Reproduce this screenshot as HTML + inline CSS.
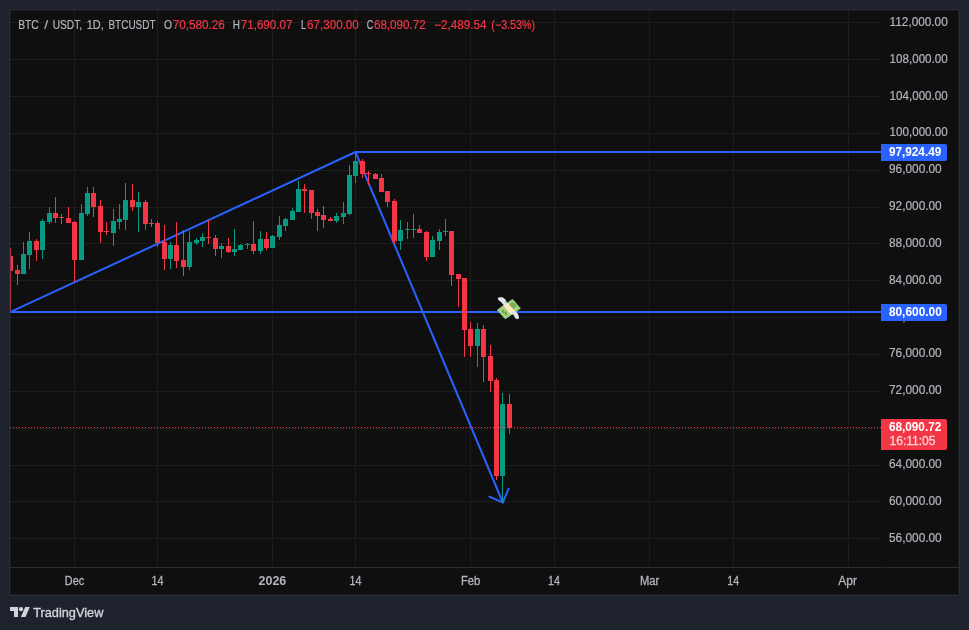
<!DOCTYPE html>
<html><head><meta charset="utf-8"><title>BTC / USDT chart</title>
<style>
html,body{margin:0;padding:0;background:#1e222d;}
body{width:969px;height:630px;overflow:hidden;font-family:"Liberation Sans",sans-serif;}
svg{display:block;will-change:transform;}
text{font-family:"Liberation Sans",sans-serif;}
</style></head><body>
<svg width="969" height="630" viewBox="0 0 969 630">
<rect x="0" y="0" width="969" height="630" fill="#1e222d"/>
<rect x="10" y="10" width="949" height="585" fill="#0f0f0f"/>
<g shape-rendering="crispEdges" fill="#1d1d1d">
<rect x="10" y="22" width="871" height="1"/><rect x="10" y="59" width="871" height="1"/><rect x="10" y="96" width="871" height="1"/><rect x="10" y="133" width="871" height="1"/><rect x="10" y="170" width="871" height="1"/><rect x="10" y="207" width="871" height="1"/><rect x="10" y="243" width="871" height="1"/><rect x="10" y="280" width="871" height="1"/><rect x="10" y="317" width="871" height="1"/><rect x="10" y="354" width="871" height="1"/><rect x="10" y="391" width="871" height="1"/><rect x="10" y="428" width="871" height="1"/><rect x="10" y="465" width="871" height="1"/><rect x="10" y="501" width="871" height="1"/><rect x="10" y="538" width="871" height="1"/>
<rect x="74" y="10" width="1" height="557"/><rect x="157" y="10" width="1" height="557"/><rect x="272" y="10" width="1" height="557"/><rect x="355" y="10" width="1" height="557"/><rect x="470" y="10" width="1" height="557"/><rect x="554" y="10" width="1" height="557"/><rect x="649" y="10" width="1" height="557"/><rect x="733" y="10" width="1" height="557"/><rect x="848" y="10" width="1" height="557"/>
</g>
<rect x="10" y="567" width="949" height="1" fill="#2a2e39" shape-rendering="crispEdges"/>
<rect x="10" y="248" width="1" height="63" fill="#f23645" shape-rendering="crispEdges"/>
<g stroke="#2962ff" stroke-width="2" fill="none" stroke-linecap="round" stroke-linejoin="round">
<path d="M10 312.2 L355.5 152 L881 152" stroke-linecap="butt"/>
<path d="M10 312 L881 312" stroke-linecap="butt"/>
<path d="M355.5 152 L502.8 502.5"/>
<path d="M489.4 496.7 L502.8 502.5 L508.6 488.7"/>
</g>
<g transform="matrix(0.823 -0.568 0.658 0.752 496.8 309.8)">
<rect x="0" y="0" width="19.2" height="12.76" rx="1.1" fill="#a6d388"/>
<rect x="0.9" y="0.9" width="17.4" height="10.96" rx="0.6" fill="none" stroke="#8fc46c" stroke-width="0.7"/>
<circle cx="14.7" cy="5.7" r="3.3" fill="#77b255"/>
<path d="M5.6 4.3 c-1.4 -0.6 -2.9 0 -2.9 1.1 c0 1.3 2.9 0.9 2.9 2.3 c0 1.1 -1.6 1.6 -3 0.9 M4.15 2.9 v7" fill="none" stroke="#5c913b" stroke-width="0.85"/>
<rect x="7.7" y="0" width="5.2" height="12.76" fill="#ffe8b6"/>
<rect x="7.7" y="11.7" width="1.3" height="1.06" fill="#ffac33"/>
</g>
<path d="M498.1 299.6 C497.6 298 498.6 297.2 499.9 297.3 C501.6 296.9 503.2 297.4 504.2 298.6 C505.6 299.6 506.4 301.2 506.7 302.7 C507 303.8 506.9 304.9 506.2 305.5 C505.4 305.9 504.4 305.6 503.7 305 C503 304.4 502.5 303.6 501.9 302.9 C501.3 302.2 500.4 301.7 499.6 301.1 C498.9 300.7 498.3 300.3 498.1 299.6 Z" fill="#e1e8ed"/>
<path d="M503.9 300.2 C505 301.4 505.7 302.8 505.9 304.3" fill="none" stroke="#ccd6dd" stroke-width="0.8"/>
<path d="M510.6 312.1 C511.2 311.2 512.3 310.9 513.3 311 C514.5 311.1 515.6 311.5 516.4 312.3 C517.5 313.2 518.3 314.5 518.7 315.9 C519 316.7 519.1 317.5 518.7 318.2 C518.2 319 517.3 319.2 516.6 318.9 C515.7 318.5 515.1 317.7 514.6 316.9 C514.1 316 513.6 315 512.8 314.3 C512.3 313.9 511.6 314 511.1 313.8 C510.5 313.5 510.3 312.7 510.6 312.1 Z" fill="#e1e8ed"/>
<path d="M512.2 312.6 C513.6 313.2 514.9 314.6 515.6 316.2" fill="none" stroke="#ccd6dd" stroke-width="0.8"/>
<rect x="881" y="567" width="1" height="1" fill="#0f0f0f" shape-rendering="crispEdges"/>
<g shape-rendering="crispEdges">
<rect x="11" y="256" width="2" height="15" fill="#f23645"/>
<rect x="17" y="265" width="1" height="20" fill="#f23645"/><rect x="15" y="270" width="5" height="4" fill="#f23645"/>
<rect x="23" y="242" width="1" height="32" fill="#089981"/><rect x="21" y="254" width="5" height="20" fill="#089981"/>
<rect x="29" y="232" width="1" height="37" fill="#089981"/><rect x="27" y="241" width="5" height="14" fill="#089981"/>
<rect x="36" y="239" width="1" height="22" fill="#f23645"/><rect x="34" y="241" width="5" height="9" fill="#f23645"/>
<rect x="42" y="219" width="1" height="40" fill="#089981"/><rect x="40" y="221" width="5" height="29" fill="#089981"/>
<rect x="49" y="207" width="1" height="17" fill="#089981"/><rect x="47" y="213" width="5" height="9" fill="#089981"/>
<rect x="55" y="197" width="1" height="26" fill="#f23645"/><rect x="53" y="213" width="5" height="5" fill="#f23645"/>
<rect x="61" y="214" width="1" height="10" fill="#f23645"/><rect x="59" y="217" width="5" height="1" fill="#f23645"/>
<rect x="68" y="207" width="1" height="16" fill="#f23645"/><rect x="66" y="218" width="5" height="5" fill="#f23645"/>
<rect x="74" y="221" width="1" height="61" fill="#f23645"/><rect x="72" y="222" width="5" height="38" fill="#f23645"/>
<rect x="81" y="204" width="1" height="56" fill="#089981"/><rect x="79" y="213" width="5" height="47" fill="#089981"/>
<rect x="87" y="187" width="1" height="29" fill="#089981"/><rect x="85" y="193" width="5" height="21" fill="#089981"/>
<rect x="93" y="187" width="1" height="30" fill="#f23645"/><rect x="91" y="193" width="5" height="14" fill="#f23645"/>
<rect x="100" y="200" width="1" height="43" fill="#f23645"/><rect x="98" y="206" width="5" height="26" fill="#f23645"/>
<rect x="106" y="222" width="1" height="13" fill="#f23645"/><rect x="104" y="231" width="5" height="1" fill="#f23645"/>
<rect x="113" y="209" width="1" height="37" fill="#089981"/><rect x="111" y="221" width="5" height="12" fill="#089981"/>
<rect x="119" y="204" width="1" height="25" fill="#089981"/><rect x="117" y="219" width="5" height="3" fill="#089981"/>
<rect x="125" y="183" width="1" height="47" fill="#089981"/><rect x="123" y="200" width="5" height="20" fill="#089981"/>
<rect x="132" y="184" width="1" height="27" fill="#f23645"/><rect x="130" y="200" width="5" height="7" fill="#f23645"/>
<rect x="138" y="192" width="1" height="40" fill="#089981"/><rect x="136" y="202" width="5" height="5" fill="#089981"/>
<rect x="145" y="200" width="1" height="30" fill="#f23645"/><rect x="143" y="202" width="5" height="22" fill="#f23645"/>
<rect x="151" y="219" width="1" height="8" fill="#f23645"/><rect x="149" y="223" width="5" height="1" fill="#f23645"/>
<rect x="157" y="221" width="1" height="26" fill="#f23645"/><rect x="155" y="223" width="5" height="20" fill="#f23645"/>
<rect x="164" y="225" width="1" height="45" fill="#f23645"/><rect x="162" y="242" width="5" height="17" fill="#f23645"/>
<rect x="170" y="242" width="1" height="27" fill="#089981"/><rect x="168" y="245" width="5" height="14" fill="#089981"/>
<rect x="176" y="222" width="1" height="46" fill="#f23645"/><rect x="174" y="245" width="5" height="16" fill="#f23645"/>
<rect x="183" y="230" width="1" height="46" fill="#f23645"/><rect x="181" y="260" width="5" height="7" fill="#f23645"/>
<rect x="189" y="231" width="1" height="39" fill="#089981"/><rect x="187" y="242" width="5" height="25" fill="#089981"/>
<rect x="196" y="238" width="1" height="7" fill="#089981"/><rect x="194" y="240" width="5" height="3" fill="#089981"/>
<rect x="202" y="233" width="1" height="14" fill="#089981"/><rect x="200" y="237" width="5" height="4" fill="#089981"/>
<rect x="208" y="220" width="1" height="24" fill="#f23645"/><rect x="206" y="237" width="5" height="1" fill="#f23645"/>
<rect x="215" y="235" width="1" height="21" fill="#f23645"/><rect x="213" y="238" width="5" height="11" fill="#f23645"/>
<rect x="221" y="243" width="1" height="15" fill="#089981"/><rect x="219" y="246" width="5" height="3" fill="#089981"/>
<rect x="228" y="238" width="1" height="15" fill="#f23645"/><rect x="226" y="246" width="5" height="6" fill="#f23645"/>
<rect x="234" y="229" width="1" height="27" fill="#089981"/><rect x="232" y="249" width="5" height="3" fill="#089981"/>
<rect x="240" y="244" width="1" height="6" fill="#089981"/><rect x="238" y="245" width="5" height="5" fill="#089981"/>
<rect x="247" y="243" width="1" height="6" fill="#089981"/><rect x="245" y="244" width="5" height="1" fill="#089981"/>
<rect x="253" y="221" width="1" height="33" fill="#f23645"/><rect x="251" y="244" width="5" height="7" fill="#f23645"/>
<rect x="260" y="231" width="1" height="23" fill="#089981"/><rect x="258" y="239" width="5" height="12" fill="#089981"/>
<rect x="266" y="232" width="1" height="18" fill="#f23645"/><rect x="264" y="239" width="5" height="9" fill="#f23645"/>
<rect x="272" y="235" width="1" height="13" fill="#089981"/><rect x="270" y="236" width="5" height="12" fill="#089981"/>
<rect x="279" y="216" width="1" height="24" fill="#089981"/><rect x="277" y="225" width="5" height="12" fill="#089981"/>
<rect x="285" y="218" width="1" height="13" fill="#089981"/><rect x="283" y="219" width="5" height="7" fill="#089981"/>
<rect x="292" y="208" width="1" height="12" fill="#089981"/><rect x="290" y="211" width="5" height="9" fill="#089981"/>
<rect x="298" y="181" width="1" height="31" fill="#089981"/><rect x="296" y="189" width="5" height="23" fill="#089981"/>
<rect x="304" y="184" width="1" height="29" fill="#f23645"/><rect x="302" y="189" width="5" height="2" fill="#f23645"/>
<rect x="311" y="190" width="1" height="29" fill="#f23645"/><rect x="309" y="190" width="5" height="23" fill="#f23645"/>
<rect x="317" y="209" width="1" height="22" fill="#f23645"/><rect x="315" y="212" width="5" height="4" fill="#f23645"/>
<rect x="323" y="206" width="1" height="22" fill="#f23645"/><rect x="321" y="215" width="5" height="5" fill="#f23645"/>
<rect x="330" y="217" width="1" height="4" fill="#f23645"/><rect x="328" y="219" width="5" height="2" fill="#f23645"/>
<rect x="336" y="213" width="1" height="10" fill="#089981"/><rect x="334" y="216" width="5" height="5" fill="#089981"/>
<rect x="343" y="202" width="1" height="22" fill="#089981"/><rect x="341" y="213" width="5" height="4" fill="#089981"/>
<rect x="349" y="165" width="1" height="50" fill="#089981"/><rect x="347" y="175" width="5" height="39" fill="#089981"/>
<rect x="355" y="152" width="1" height="31" fill="#089981"/><rect x="353" y="161" width="5" height="15" fill="#089981"/>
<rect x="362" y="159" width="1" height="19" fill="#f23645"/><rect x="360" y="161" width="5" height="13" fill="#f23645"/>
<rect x="368" y="171" width="1" height="14" fill="#f23645"/><rect x="366" y="173" width="5" height="1" fill="#f23645"/>
<rect x="375" y="173" width="1" height="6" fill="#f23645"/><rect x="373" y="174" width="5" height="5" fill="#f23645"/>
<rect x="381" y="174" width="1" height="18" fill="#f23645"/><rect x="379" y="178" width="5" height="14" fill="#f23645"/>
<rect x="387" y="191" width="1" height="16" fill="#f23645"/><rect x="385" y="191" width="5" height="11" fill="#f23645"/>
<rect x="394" y="199" width="1" height="45" fill="#f23645"/><rect x="392" y="201" width="5" height="40" fill="#f23645"/>
<rect x="400" y="220" width="1" height="30" fill="#089981"/><rect x="398" y="230" width="5" height="11" fill="#089981"/>
<rect x="407" y="222" width="1" height="17" fill="#089981"/><rect x="405" y="229" width="5" height="1" fill="#089981"/>
<rect x="413" y="214" width="1" height="24" fill="#089981"/><rect x="411" y="229" width="5" height="1" fill="#089981"/>
<rect x="419" y="225" width="1" height="8" fill="#f23645"/><rect x="417" y="229" width="5" height="4" fill="#f23645"/>
<rect x="426" y="231" width="1" height="30" fill="#f23645"/><rect x="424" y="232" width="5" height="25" fill="#f23645"/>
<rect x="432" y="236" width="1" height="21" fill="#089981"/><rect x="430" y="240" width="5" height="17" fill="#089981"/>
<rect x="439" y="229" width="1" height="21" fill="#089981"/><rect x="437" y="232" width="5" height="9" fill="#089981"/>
<rect x="445" y="219" width="1" height="17" fill="#089981"/><rect x="443" y="231" width="5" height="1" fill="#089981"/>
<rect x="451" y="231" width="1" height="55" fill="#f23645"/><rect x="449" y="231" width="5" height="44" fill="#f23645"/>
<rect x="458" y="274" width="1" height="33" fill="#f23645"/><rect x="456" y="274" width="5" height="5" fill="#f23645"/>
<rect x="464" y="278" width="1" height="79" fill="#f23645"/><rect x="462" y="278" width="5" height="52" fill="#f23645"/>
<rect x="470" y="322" width="1" height="35" fill="#f23645"/><rect x="468" y="329" width="5" height="17" fill="#f23645"/>
<rect x="477" y="323" width="1" height="44" fill="#089981"/><rect x="475" y="329" width="5" height="17" fill="#089981"/>
<rect x="483" y="325" width="1" height="57" fill="#f23645"/><rect x="481" y="329" width="5" height="28" fill="#f23645"/>
<rect x="490" y="345" width="1" height="47" fill="#f23645"/><rect x="488" y="356" width="5" height="25" fill="#f23645"/>
<rect x="496" y="378" width="1" height="102" fill="#f23645"/><rect x="494" y="380" width="5" height="96" fill="#f23645"/>
<rect x="502" y="393" width="1" height="109" fill="#089981"/><rect x="500" y="404" width="5" height="72" fill="#089981"/>
<rect x="509" y="394" width="1" height="40" fill="#f23645"/><rect x="507" y="404" width="5" height="24" fill="#f23645"/>
</g>
<g shape-rendering="crispEdges" fill="#f23645"><rect x="10" y="427" width="1" height="1"/><rect x="13" y="427" width="1" height="1"/><rect x="16" y="427" width="1" height="1"/><rect x="19" y="427" width="1" height="1"/><rect x="22" y="427" width="1" height="1"/><rect x="25" y="427" width="1" height="1"/><rect x="28" y="427" width="1" height="1"/><rect x="31" y="427" width="1" height="1"/><rect x="34" y="427" width="1" height="1"/><rect x="37" y="427" width="1" height="1"/><rect x="40" y="427" width="1" height="1"/><rect x="43" y="427" width="1" height="1"/><rect x="46" y="427" width="1" height="1"/><rect x="49" y="427" width="1" height="1"/><rect x="52" y="427" width="1" height="1"/><rect x="55" y="427" width="1" height="1"/><rect x="58" y="427" width="1" height="1"/><rect x="61" y="427" width="1" height="1"/><rect x="64" y="427" width="1" height="1"/><rect x="67" y="427" width="1" height="1"/><rect x="70" y="427" width="1" height="1"/><rect x="73" y="427" width="1" height="1"/><rect x="76" y="427" width="1" height="1"/><rect x="79" y="427" width="1" height="1"/><rect x="82" y="427" width="1" height="1"/><rect x="85" y="427" width="1" height="1"/><rect x="88" y="427" width="1" height="1"/><rect x="91" y="427" width="1" height="1"/><rect x="94" y="427" width="1" height="1"/><rect x="97" y="427" width="1" height="1"/><rect x="100" y="427" width="1" height="1"/><rect x="103" y="427" width="1" height="1"/><rect x="106" y="427" width="1" height="1"/><rect x="109" y="427" width="1" height="1"/><rect x="112" y="427" width="1" height="1"/><rect x="115" y="427" width="1" height="1"/><rect x="118" y="427" width="1" height="1"/><rect x="121" y="427" width="1" height="1"/><rect x="124" y="427" width="1" height="1"/><rect x="127" y="427" width="1" height="1"/><rect x="130" y="427" width="1" height="1"/><rect x="133" y="427" width="1" height="1"/><rect x="136" y="427" width="1" height="1"/><rect x="139" y="427" width="1" height="1"/><rect x="142" y="427" width="1" height="1"/><rect x="145" y="427" width="1" height="1"/><rect x="148" y="427" width="1" height="1"/><rect x="151" y="427" width="1" height="1"/><rect x="154" y="427" width="1" height="1"/><rect x="157" y="427" width="1" height="1"/><rect x="160" y="427" width="1" height="1"/><rect x="163" y="427" width="1" height="1"/><rect x="166" y="427" width="1" height="1"/><rect x="169" y="427" width="1" height="1"/><rect x="172" y="427" width="1" height="1"/><rect x="175" y="427" width="1" height="1"/><rect x="178" y="427" width="1" height="1"/><rect x="181" y="427" width="1" height="1"/><rect x="184" y="427" width="1" height="1"/><rect x="187" y="427" width="1" height="1"/><rect x="190" y="427" width="1" height="1"/><rect x="193" y="427" width="1" height="1"/><rect x="196" y="427" width="1" height="1"/><rect x="199" y="427" width="1" height="1"/><rect x="202" y="427" width="1" height="1"/><rect x="205" y="427" width="1" height="1"/><rect x="208" y="427" width="1" height="1"/><rect x="211" y="427" width="1" height="1"/><rect x="214" y="427" width="1" height="1"/><rect x="217" y="427" width="1" height="1"/><rect x="220" y="427" width="1" height="1"/><rect x="223" y="427" width="1" height="1"/><rect x="226" y="427" width="1" height="1"/><rect x="229" y="427" width="1" height="1"/><rect x="232" y="427" width="1" height="1"/><rect x="235" y="427" width="1" height="1"/><rect x="238" y="427" width="1" height="1"/><rect x="241" y="427" width="1" height="1"/><rect x="244" y="427" width="1" height="1"/><rect x="247" y="427" width="1" height="1"/><rect x="250" y="427" width="1" height="1"/><rect x="253" y="427" width="1" height="1"/><rect x="256" y="427" width="1" height="1"/><rect x="259" y="427" width="1" height="1"/><rect x="262" y="427" width="1" height="1"/><rect x="265" y="427" width="1" height="1"/><rect x="268" y="427" width="1" height="1"/><rect x="271" y="427" width="1" height="1"/><rect x="274" y="427" width="1" height="1"/><rect x="277" y="427" width="1" height="1"/><rect x="280" y="427" width="1" height="1"/><rect x="283" y="427" width="1" height="1"/><rect x="286" y="427" width="1" height="1"/><rect x="289" y="427" width="1" height="1"/><rect x="292" y="427" width="1" height="1"/><rect x="295" y="427" width="1" height="1"/><rect x="298" y="427" width="1" height="1"/><rect x="301" y="427" width="1" height="1"/><rect x="304" y="427" width="1" height="1"/><rect x="307" y="427" width="1" height="1"/><rect x="310" y="427" width="1" height="1"/><rect x="313" y="427" width="1" height="1"/><rect x="316" y="427" width="1" height="1"/><rect x="319" y="427" width="1" height="1"/><rect x="322" y="427" width="1" height="1"/><rect x="325" y="427" width="1" height="1"/><rect x="328" y="427" width="1" height="1"/><rect x="331" y="427" width="1" height="1"/><rect x="334" y="427" width="1" height="1"/><rect x="337" y="427" width="1" height="1"/><rect x="340" y="427" width="1" height="1"/><rect x="343" y="427" width="1" height="1"/><rect x="346" y="427" width="1" height="1"/><rect x="349" y="427" width="1" height="1"/><rect x="352" y="427" width="1" height="1"/><rect x="355" y="427" width="1" height="1"/><rect x="358" y="427" width="1" height="1"/><rect x="361" y="427" width="1" height="1"/><rect x="364" y="427" width="1" height="1"/><rect x="367" y="427" width="1" height="1"/><rect x="370" y="427" width="1" height="1"/><rect x="373" y="427" width="1" height="1"/><rect x="376" y="427" width="1" height="1"/><rect x="379" y="427" width="1" height="1"/><rect x="382" y="427" width="1" height="1"/><rect x="385" y="427" width="1" height="1"/><rect x="388" y="427" width="1" height="1"/><rect x="391" y="427" width="1" height="1"/><rect x="394" y="427" width="1" height="1"/><rect x="397" y="427" width="1" height="1"/><rect x="400" y="427" width="1" height="1"/><rect x="403" y="427" width="1" height="1"/><rect x="406" y="427" width="1" height="1"/><rect x="409" y="427" width="1" height="1"/><rect x="412" y="427" width="1" height="1"/><rect x="415" y="427" width="1" height="1"/><rect x="418" y="427" width="1" height="1"/><rect x="421" y="427" width="1" height="1"/><rect x="424" y="427" width="1" height="1"/><rect x="427" y="427" width="1" height="1"/><rect x="430" y="427" width="1" height="1"/><rect x="433" y="427" width="1" height="1"/><rect x="436" y="427" width="1" height="1"/><rect x="439" y="427" width="1" height="1"/><rect x="442" y="427" width="1" height="1"/><rect x="445" y="427" width="1" height="1"/><rect x="448" y="427" width="1" height="1"/><rect x="451" y="427" width="1" height="1"/><rect x="454" y="427" width="1" height="1"/><rect x="457" y="427" width="1" height="1"/><rect x="460" y="427" width="1" height="1"/><rect x="463" y="427" width="1" height="1"/><rect x="466" y="427" width="1" height="1"/><rect x="469" y="427" width="1" height="1"/><rect x="472" y="427" width="1" height="1"/><rect x="475" y="427" width="1" height="1"/><rect x="478" y="427" width="1" height="1"/><rect x="481" y="427" width="1" height="1"/><rect x="484" y="427" width="1" height="1"/><rect x="487" y="427" width="1" height="1"/><rect x="490" y="427" width="1" height="1"/><rect x="493" y="427" width="1" height="1"/><rect x="496" y="427" width="1" height="1"/><rect x="499" y="427" width="1" height="1"/><rect x="502" y="427" width="1" height="1"/><rect x="505" y="427" width="1" height="1"/><rect x="508" y="427" width="1" height="1"/><rect x="511" y="427" width="1" height="1"/><rect x="514" y="427" width="1" height="1"/><rect x="517" y="427" width="1" height="1"/><rect x="520" y="427" width="1" height="1"/><rect x="523" y="427" width="1" height="1"/><rect x="526" y="427" width="1" height="1"/><rect x="529" y="427" width="1" height="1"/><rect x="532" y="427" width="1" height="1"/><rect x="535" y="427" width="1" height="1"/><rect x="538" y="427" width="1" height="1"/><rect x="541" y="427" width="1" height="1"/><rect x="544" y="427" width="1" height="1"/><rect x="547" y="427" width="1" height="1"/><rect x="550" y="427" width="1" height="1"/><rect x="553" y="427" width="1" height="1"/><rect x="556" y="427" width="1" height="1"/><rect x="559" y="427" width="1" height="1"/><rect x="562" y="427" width="1" height="1"/><rect x="565" y="427" width="1" height="1"/><rect x="568" y="427" width="1" height="1"/><rect x="571" y="427" width="1" height="1"/><rect x="574" y="427" width="1" height="1"/><rect x="577" y="427" width="1" height="1"/><rect x="580" y="427" width="1" height="1"/><rect x="583" y="427" width="1" height="1"/><rect x="586" y="427" width="1" height="1"/><rect x="589" y="427" width="1" height="1"/><rect x="592" y="427" width="1" height="1"/><rect x="595" y="427" width="1" height="1"/><rect x="598" y="427" width="1" height="1"/><rect x="601" y="427" width="1" height="1"/><rect x="604" y="427" width="1" height="1"/><rect x="607" y="427" width="1" height="1"/><rect x="610" y="427" width="1" height="1"/><rect x="613" y="427" width="1" height="1"/><rect x="616" y="427" width="1" height="1"/><rect x="619" y="427" width="1" height="1"/><rect x="622" y="427" width="1" height="1"/><rect x="625" y="427" width="1" height="1"/><rect x="628" y="427" width="1" height="1"/><rect x="631" y="427" width="1" height="1"/><rect x="634" y="427" width="1" height="1"/><rect x="637" y="427" width="1" height="1"/><rect x="640" y="427" width="1" height="1"/><rect x="643" y="427" width="1" height="1"/><rect x="646" y="427" width="1" height="1"/><rect x="649" y="427" width="1" height="1"/><rect x="652" y="427" width="1" height="1"/><rect x="655" y="427" width="1" height="1"/><rect x="658" y="427" width="1" height="1"/><rect x="661" y="427" width="1" height="1"/><rect x="664" y="427" width="1" height="1"/><rect x="667" y="427" width="1" height="1"/><rect x="670" y="427" width="1" height="1"/><rect x="673" y="427" width="1" height="1"/><rect x="676" y="427" width="1" height="1"/><rect x="679" y="427" width="1" height="1"/><rect x="682" y="427" width="1" height="1"/><rect x="685" y="427" width="1" height="1"/><rect x="688" y="427" width="1" height="1"/><rect x="691" y="427" width="1" height="1"/><rect x="694" y="427" width="1" height="1"/><rect x="697" y="427" width="1" height="1"/><rect x="700" y="427" width="1" height="1"/><rect x="703" y="427" width="1" height="1"/><rect x="706" y="427" width="1" height="1"/><rect x="709" y="427" width="1" height="1"/><rect x="712" y="427" width="1" height="1"/><rect x="715" y="427" width="1" height="1"/><rect x="718" y="427" width="1" height="1"/><rect x="721" y="427" width="1" height="1"/><rect x="724" y="427" width="1" height="1"/><rect x="727" y="427" width="1" height="1"/><rect x="730" y="427" width="1" height="1"/><rect x="733" y="427" width="1" height="1"/><rect x="736" y="427" width="1" height="1"/><rect x="739" y="427" width="1" height="1"/><rect x="742" y="427" width="1" height="1"/><rect x="745" y="427" width="1" height="1"/><rect x="748" y="427" width="1" height="1"/><rect x="751" y="427" width="1" height="1"/><rect x="754" y="427" width="1" height="1"/><rect x="757" y="427" width="1" height="1"/><rect x="760" y="427" width="1" height="1"/><rect x="763" y="427" width="1" height="1"/><rect x="766" y="427" width="1" height="1"/><rect x="769" y="427" width="1" height="1"/><rect x="772" y="427" width="1" height="1"/><rect x="775" y="427" width="1" height="1"/><rect x="778" y="427" width="1" height="1"/><rect x="781" y="427" width="1" height="1"/><rect x="784" y="427" width="1" height="1"/><rect x="787" y="427" width="1" height="1"/><rect x="790" y="427" width="1" height="1"/><rect x="793" y="427" width="1" height="1"/><rect x="796" y="427" width="1" height="1"/><rect x="799" y="427" width="1" height="1"/><rect x="802" y="427" width="1" height="1"/><rect x="805" y="427" width="1" height="1"/><rect x="808" y="427" width="1" height="1"/><rect x="811" y="427" width="1" height="1"/><rect x="814" y="427" width="1" height="1"/><rect x="817" y="427" width="1" height="1"/><rect x="820" y="427" width="1" height="1"/><rect x="823" y="427" width="1" height="1"/><rect x="826" y="427" width="1" height="1"/><rect x="829" y="427" width="1" height="1"/><rect x="832" y="427" width="1" height="1"/><rect x="835" y="427" width="1" height="1"/><rect x="838" y="427" width="1" height="1"/><rect x="841" y="427" width="1" height="1"/><rect x="844" y="427" width="1" height="1"/><rect x="847" y="427" width="1" height="1"/><rect x="850" y="427" width="1" height="1"/><rect x="853" y="427" width="1" height="1"/><rect x="856" y="427" width="1" height="1"/><rect x="859" y="427" width="1" height="1"/><rect x="862" y="427" width="1" height="1"/><rect x="865" y="427" width="1" height="1"/><rect x="868" y="427" width="1" height="1"/><rect x="871" y="427" width="1" height="1"/><rect x="874" y="427" width="1" height="1"/><rect x="877" y="427" width="1" height="1"/><rect x="880" y="427" width="1" height="1"/></g>
<g opacity="0.999">
<text x="889.6" y="25.7" font-size="12" font-weight="normal" fill="#b2b5be" stroke="#b2b5be" stroke-width="0.2" text-anchor="start" textLength="58.1" lengthAdjust="spacingAndGlyphs">112,000.00</text>
<text x="889.6" y="62.7" font-size="12" font-weight="normal" fill="#b2b5be" stroke="#b2b5be" stroke-width="0.2" text-anchor="start" textLength="58.1" lengthAdjust="spacingAndGlyphs">108,000.00</text>
<text x="889.6" y="99.7" font-size="12" font-weight="normal" fill="#b2b5be" stroke="#b2b5be" stroke-width="0.2" text-anchor="start" textLength="58.1" lengthAdjust="spacingAndGlyphs">104,000.00</text>
<text x="889.6" y="135.7" font-size="12" font-weight="normal" fill="#b2b5be" stroke="#b2b5be" stroke-width="0.2" text-anchor="start" textLength="58.1" lengthAdjust="spacingAndGlyphs">100,000.00</text>
<text x="889.0" y="172.7" font-size="12" font-weight="normal" fill="#b2b5be" stroke="#b2b5be" stroke-width="0.2" text-anchor="start" textLength="52.7" lengthAdjust="spacingAndGlyphs">96,000.00</text>
<text x="889.0" y="209.7" font-size="12" font-weight="normal" fill="#b2b5be" stroke="#b2b5be" stroke-width="0.2" text-anchor="start" textLength="52.7" lengthAdjust="spacingAndGlyphs">92,000.00</text>
<text x="889.0" y="246.7" font-size="12" font-weight="normal" fill="#b2b5be" stroke="#b2b5be" stroke-width="0.2" text-anchor="start" textLength="52.7" lengthAdjust="spacingAndGlyphs">88,000.00</text>
<text x="889.0" y="283.7" font-size="12" font-weight="normal" fill="#b2b5be" stroke="#b2b5be" stroke-width="0.2" text-anchor="start" textLength="52.7" lengthAdjust="spacingAndGlyphs">84,000.00</text>
<text x="889.0" y="320.7" font-size="12" font-weight="normal" fill="#b2b5be" stroke="#b2b5be" stroke-width="0.2" text-anchor="start" textLength="52.7" lengthAdjust="spacingAndGlyphs">80,000.00</text>
<text x="889.0" y="356.7" font-size="12" font-weight="normal" fill="#b2b5be" stroke="#b2b5be" stroke-width="0.2" text-anchor="start" textLength="52.7" lengthAdjust="spacingAndGlyphs">76,000.00</text>
<text x="889.0" y="393.7" font-size="12" font-weight="normal" fill="#b2b5be" stroke="#b2b5be" stroke-width="0.2" text-anchor="start" textLength="52.7" lengthAdjust="spacingAndGlyphs">72,000.00</text>
<text x="889.0" y="430.7" font-size="12" font-weight="normal" fill="#b2b5be" stroke="#b2b5be" stroke-width="0.2" text-anchor="start" textLength="52.7" lengthAdjust="spacingAndGlyphs">68,000.00</text>
<text x="889.0" y="467.7" font-size="12" font-weight="normal" fill="#b2b5be" stroke="#b2b5be" stroke-width="0.2" text-anchor="start" textLength="52.7" lengthAdjust="spacingAndGlyphs">64,000.00</text>
<text x="889.0" y="504.7" font-size="12" font-weight="normal" fill="#b2b5be" stroke="#b2b5be" stroke-width="0.2" text-anchor="start" textLength="52.7" lengthAdjust="spacingAndGlyphs">60,000.00</text>
<text x="889.0" y="541.7" font-size="12" font-weight="normal" fill="#b2b5be" stroke="#b2b5be" stroke-width="0.2" text-anchor="start" textLength="52.7" lengthAdjust="spacingAndGlyphs">56,000.00</text>
<path d="M881 144 H945 a2 2 0 0 1 2 2 V159 a2 2 0 0 1 -2 2 H881 Z" fill="#2962ff"/>
<text x="888.9" y="155.9" font-size="12" font-weight="bold" fill="#ffffff" stroke="#ffffff" stroke-width="0" text-anchor="start" textLength="52.4" lengthAdjust="spacingAndGlyphs">97,924.49</text>
<path d="M881 304 H945 a2 2 0 0 1 2 2 V319 a2 2 0 0 1 -2 2 H881 Z" fill="#2962ff"/>
<text x="888.9" y="315.7" font-size="12" font-weight="bold" fill="#ffffff" stroke="#ffffff" stroke-width="0" text-anchor="start" textLength="52.9" lengthAdjust="spacingAndGlyphs">80,600.00</text>
<path d="M881 419 H945 a2 2 0 0 1 2 2 V448 a2 2 0 0 1 -2 2 H881 Z" fill="#f23645"/>
<text x="888.9" y="430.9" font-size="12" font-weight="bold" fill="#ffffff" stroke="#ffffff" stroke-width="0" text-anchor="start" textLength="52.4" lengthAdjust="spacingAndGlyphs">68,090.72</text>
<text x="889.6" y="444.7" font-size="12" font-weight="normal" fill="#fbd2d6" stroke="#fbd2d6" stroke-width="0.3" text-anchor="start" textLength="45.9" lengthAdjust="spacingAndGlyphs">16:11:05</text>
<text x="64.8" y="585.3" font-size="12" font-weight="normal" fill="#b2b5be" stroke="#b2b5be" stroke-width="0.3" text-anchor="start" textLength="19.3" lengthAdjust="spacingAndGlyphs">Dec</text>
<text x="151.6" y="585.3" font-size="12" font-weight="normal" fill="#b2b5be" stroke="#b2b5be" stroke-width="0.3" text-anchor="start" textLength="11.9" lengthAdjust="spacingAndGlyphs">14</text>
<text x="258.6" y="585.3" font-size="12" font-weight="bold" fill="#b2b5be" stroke="#b2b5be" stroke-width="0" text-anchor="start" textLength="27.7" lengthAdjust="spacingAndGlyphs">2026</text>
<text x="349.6" y="585.3" font-size="12" font-weight="normal" fill="#b2b5be" stroke="#b2b5be" stroke-width="0.3" text-anchor="start" textLength="11.9" lengthAdjust="spacingAndGlyphs">14</text>
<text x="460.9" y="585.3" font-size="12" font-weight="normal" fill="#b2b5be" stroke="#b2b5be" stroke-width="0.3" text-anchor="start" textLength="19.3" lengthAdjust="spacingAndGlyphs">Feb</text>
<text x="548.0" y="585.3" font-size="12" font-weight="normal" fill="#b2b5be" stroke="#b2b5be" stroke-width="0.3" text-anchor="start" textLength="11.9" lengthAdjust="spacingAndGlyphs">14</text>
<text x="639.9" y="585.3" font-size="12" font-weight="normal" fill="#b2b5be" stroke="#b2b5be" stroke-width="0.3" text-anchor="start" textLength="19.3" lengthAdjust="spacingAndGlyphs">Mar</text>
<text x="727.3" y="585.3" font-size="12" font-weight="normal" fill="#b2b5be" stroke="#b2b5be" stroke-width="0.3" text-anchor="start" textLength="11.9" lengthAdjust="spacingAndGlyphs">14</text>
<text x="838.3" y="585.3" font-size="12" font-weight="normal" fill="#b2b5be" stroke="#b2b5be" stroke-width="0.3" text-anchor="start" textLength="18.6" lengthAdjust="spacingAndGlyphs">Apr</text>
<text x="18.2" y="29.0" font-size="12" font-weight="normal" fill="#b2b5be" stroke="#b2b5be" stroke-width="0.2" text-anchor="start" textLength="20.6" lengthAdjust="spacingAndGlyphs">BTC</text>
<text x="44.2" y="29.0" font-size="12" font-weight="normal" fill="#b2b5be" stroke="#b2b5be" stroke-width="0.2" text-anchor="start" textLength="3.9" lengthAdjust="spacingAndGlyphs">/</text>
<text x="52.7" y="29.0" font-size="12" font-weight="normal" fill="#b2b5be" stroke="#b2b5be" stroke-width="0.2" text-anchor="start" textLength="29.4" lengthAdjust="spacingAndGlyphs">USDT,</text>
<text x="86.8" y="29.0" font-size="12" font-weight="normal" fill="#b2b5be" stroke="#b2b5be" stroke-width="0.2" text-anchor="start" textLength="17.0" lengthAdjust="spacingAndGlyphs">1D,</text>
<text x="108.4" y="29.0" font-size="12" font-weight="normal" fill="#b2b5be" stroke="#b2b5be" stroke-width="0.2" text-anchor="start" textLength="47.2" lengthAdjust="spacingAndGlyphs">BTCUSDT</text>
<text x="163.9" y="29.0" font-size="12" font-weight="normal" fill="#b2b5be" stroke="#b2b5be" stroke-width="0.2" text-anchor="start" textLength="8.0" lengthAdjust="spacingAndGlyphs">O</text>
<text x="172.7" y="29.0" font-size="12" font-weight="normal" fill="#f23645" stroke="#f23645" stroke-width="0.2" text-anchor="start" textLength="52.2" lengthAdjust="spacingAndGlyphs">70,580.26</text>
<text x="232.8" y="29.0" font-size="12" font-weight="normal" fill="#b2b5be" stroke="#b2b5be" stroke-width="0.2" text-anchor="start" textLength="7.2" lengthAdjust="spacingAndGlyphs">H</text>
<text x="240.8" y="29.0" font-size="12" font-weight="normal" fill="#f23645" stroke="#f23645" stroke-width="0.2" text-anchor="start" textLength="51.6" lengthAdjust="spacingAndGlyphs">71,690.07</text>
<text x="300.9" y="29.0" font-size="12" font-weight="normal" fill="#b2b5be" stroke="#b2b5be" stroke-width="0.2" text-anchor="start" textLength="5.2" lengthAdjust="spacingAndGlyphs">L</text>
<text x="307.1" y="29.0" font-size="12" font-weight="normal" fill="#f23645" stroke="#f23645" stroke-width="0.2" text-anchor="start" textLength="51.7" lengthAdjust="spacingAndGlyphs">67,300.00</text>
<text x="366.7" y="29.0" font-size="12" font-weight="normal" fill="#b2b5be" stroke="#b2b5be" stroke-width="0.2" text-anchor="start" textLength="6.5" lengthAdjust="spacingAndGlyphs">C</text>
<text x="373.9" y="29.0" font-size="12" font-weight="normal" fill="#f23645" stroke="#f23645" stroke-width="0.2" text-anchor="start" textLength="51.9" lengthAdjust="spacingAndGlyphs">68,090.72</text>
<text x="434.3" y="29.0" font-size="12" font-weight="normal" fill="#f23645" stroke="#f23645" stroke-width="0.2" text-anchor="start" textLength="52.3" lengthAdjust="spacingAndGlyphs">−2,489.54</text>
<text x="491.3" y="29.0" font-size="12" font-weight="normal" fill="#f23645" stroke="#f23645" stroke-width="0.2" text-anchor="start" textLength="43.9" lengthAdjust="spacingAndGlyphs">(−3.53%)</text>
<g fill="#d1d4dc"><path d="M10 607 H18 V617 H14 V611 H10 Z"/><circle cx="21" cy="609.2" r="2.1"/><path d="M25.2 607 H29.8 L25.5 617 H20.9 Z"/></g>
<text x="33.2" y="616.8" font-size="13" font-weight="normal" fill="#d1d4dc" stroke="#d1d4dc" stroke-width="0.35" text-anchor="start" textLength="70.2" lengthAdjust="spacingAndGlyphs">TradingView</text>
</g>
<rect x="9.5" y="9.5" width="950" height="586" rx="1" fill="none" stroke="#2a2e39" stroke-width="1" opacity="0.9"/><rect x="10.5" y="10.5" width="948" height="584" rx="0.5" fill="none" stroke="#2a2e39" stroke-width="1" opacity="0.42"/>
</svg>
</body></html>
